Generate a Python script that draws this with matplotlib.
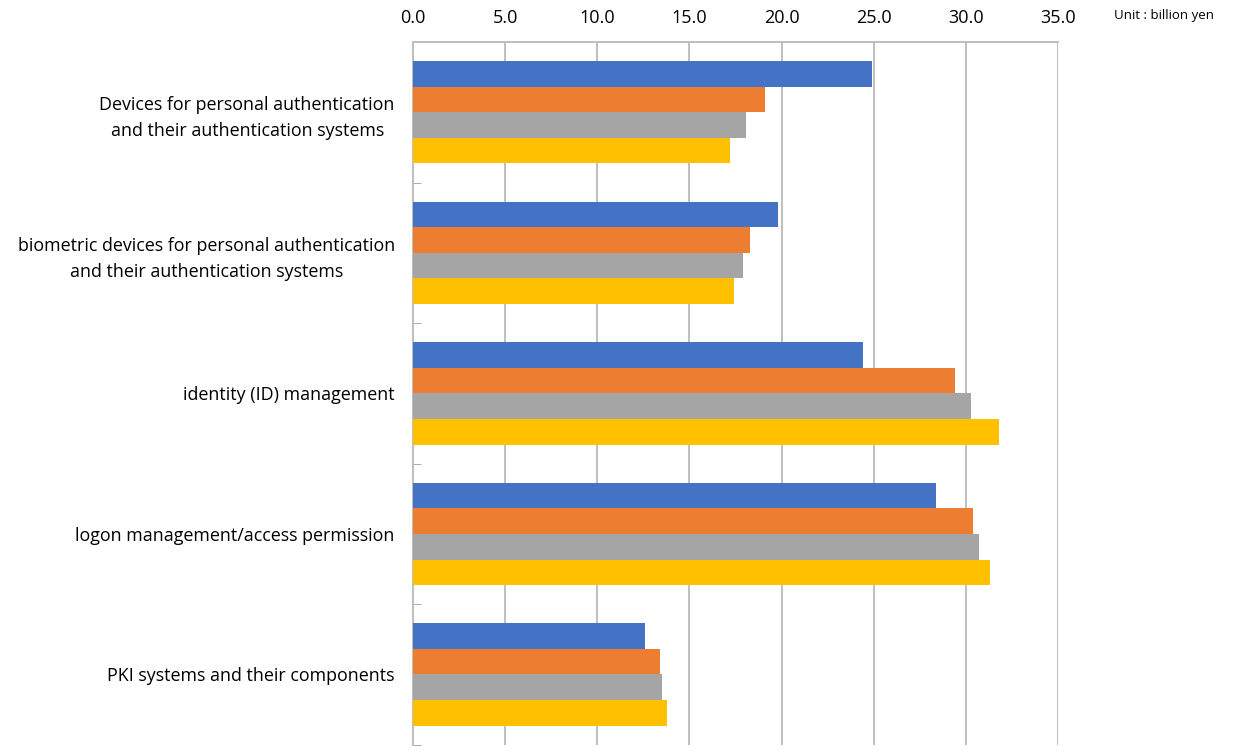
import numpy as np
import matplotlib.pyplot as plt

plt.rcParams['font.family'] = ['Open Sans', 'DejaVu Sans']

categories = [
    "Devices for personal authentication\nand their authentication systems",
    "biometric devices for personal authentication\nand their authentication systems",
    "identity (ID) management",
    "logon management/access permission",
    "PKI systems and their components",
]

# market size per category, billion yen (four series, top to bottom in each group)
series_1 = [24.9, 19.8, 24.4, 28.4, 12.6]
series_2 = [19.1, 18.3, 29.4, 30.4, 13.4]
series_3 = [18.1, 17.9, 30.3, 30.7, 13.5]
series_4 = [17.2, 17.4, 31.8, 31.3, 13.8]

xticks = [0, 5, 10, 15, 20, 25, 30, 35]
colors = ['#4472C4', '#ED7D31', '#A5A5A5', '#FFC000']

fig = plt.figure(figsize=(12.55, 7.5), dpi=100)
ax = fig.add_axes([0.329, 0.007, 0.514, 0.937])

y = np.arange(len(categories))
h = 0.182
for i, (vals, c) in enumerate(zip([series_1, series_2, series_3, series_4], colors)):
    ax.barh(y + (i - 1.5) * h, vals, height=h, color=c, zorder=3)

ax.set_xlim(0, 35)
ax.set_ylim(len(categories) - 0.5, -0.5)
ax.set_xticks(xticks)
ax.set_xticklabels([f"{v:.1f}" for v in xticks], fontsize=13)
ax.xaxis.tick_top()
ax.tick_params(axis='x', length=0, pad=11)
ax.grid(axis='x', color='#BFBFBF', linewidth=1.4, zorder=0)

ax.set_yticks(y)
ax.set_yticklabels(categories, fontsize=12.9, multialignment='center',
                   linespacing=1.55)
ax.tick_params(axis='y', length=0, pad=13)
ax.set_yticks(np.arange(len(categories) + 1) - 0.5, minor=True)
ax.tick_params(axis='y', which='minor', direction='in', length=6, color='#A0A0A0')

for s in ['right', 'bottom']:
    ax.spines[s].set_visible(False)
ax.spines['top'].set_color('#BFBFBF')
ax.spines['top'].set_linewidth(1.4)
ax.spines['left'].set_color('#BFBFBF')
ax.spines['left'].set_linewidth(1.4)

fig.text(0.888, 0.979, "Unit : billion yen", fontsize=9.5, ha='left', va='center')

fig.savefig('out.png', dpi=100)
